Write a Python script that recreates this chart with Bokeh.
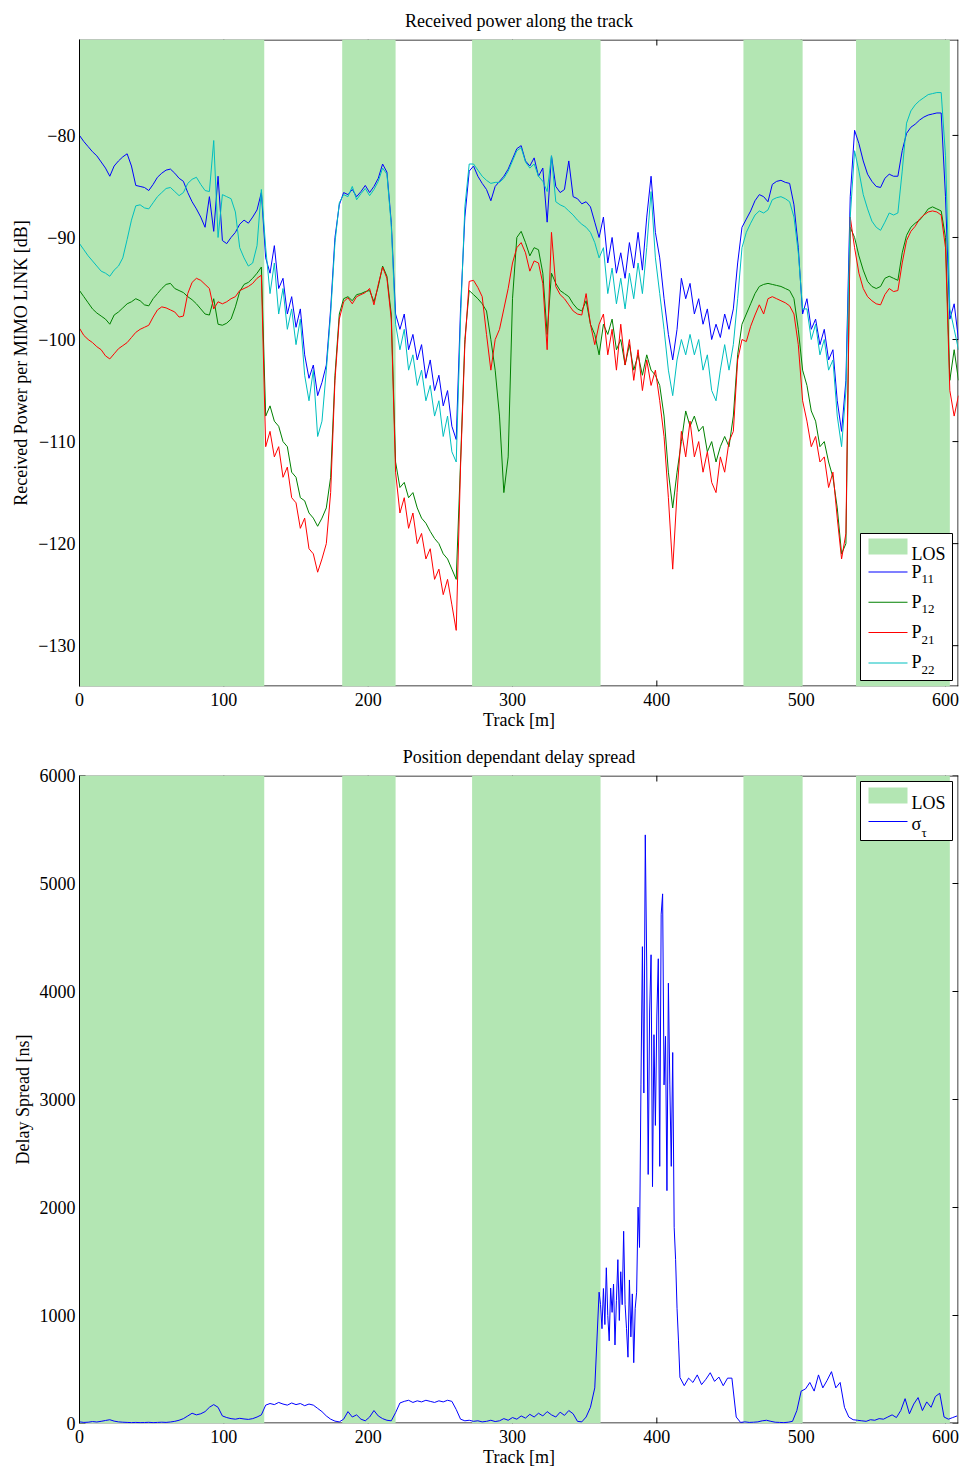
import numpy as np
from bokeh.plotting import figure
from bokeh.layouts import column
from bokeh.models import (FixedTicker, Range1d, Label, BoxAnnotation, ColumnDataSource)
from bokeh.embed import file_html
from bokeh.resources import INLINE

FONT = "Liberation Serif"

# ---------------- data ----------------
los_start = [0, 182, 272, 460, 538]
los_end = [128, 219, 361, 501, 603]

track = np.arange(0, 610, 3)  # 0 .. 609 m sampling grid

p11 = [
    # LOS 0-126
    -80.0, -80.6, -81.1, -81.6, -82.0, -82.6, -83.2, -84.0, -83.0, -82.5,
    -82.1, -81.8, -83.0, -84.9, -85.0, -85.1, -85.4, -84.8, -84.1, -83.7,
    -83.4, -83.3, -83.7, -84.2, -84.5, -85.6, -86.5, -87.2, -88.0, -89.0,
    -86.0, -89.4, -84.0, -90.3, -90.6, -90.0, -89.5, -88.7, -88.3, -88.6,
    -88.0, -87.3, -85.6,
    # NLOS 129-180
    -92.0, -93.5, -90.8, -95.0, -94.0, -97.5, -95.8, -98.8, -97.0, -101.5,
    -103.8, -102.5, -105.5, -104.2, -102.5, -97.0, -90.0, -86.8,
    # LOS 183-219
    -85.6, -85.8, -85.3, -86.0, -85.5, -84.9, -85.6, -85.0, -84.2, -82.8,
    -83.6, -88.5, -97.5,
    # NLOS 222-270
    -99.0, -97.5, -101.0, -99.5, -102.0, -100.5, -103.8, -102.0, -105.0, -103.5,
    -106.5, -105.0, -108.5, -109.8, -97.0, -88.0, -83.5,
    # LOS 273-360
    -83.0, -84.0, -84.7, -85.3, -86.4, -85.0, -84.5, -84.0, -83.3, -82.3,
    -81.3, -81.0, -82.5, -83.0, -82.2, -84.0, -83.2, -88.5, -82.0, -85.0,
    -85.6, -85.3, -82.5, -86.0, -86.2, -86.7, -86.5, -87.0, -88.5, -90.0,
    # NLOS 363-459
    -88.0, -92.5, -90.0, -93.5, -91.5, -94.0, -90.5, -93.0, -89.5, -93.2,
    -88.0, -84.0, -89.5, -92.0, -96.0, -99.5, -102.0, -99.0, -94.0, -96.0,
    -94.5, -97.5, -96.0, -98.5, -97.0, -100.0, -98.5, -99.8, -97.5, -99.0,
    -97.0, -92.5, -89.0,
    # LOS 462-501
    -88.2, -87.4, -86.4, -85.8, -86.0, -86.5, -84.8, -84.5, -84.4, -84.6,
    -84.7, -86.8, -91.0, -97.5,
    # NLOS 504-537
    -96.0, -99.0, -98.0, -100.5, -99.0, -102.0, -101.0, -106.0, -109.0, -104.0,
    -86.0, -79.5,
    # LOS 540-609
    -80.8, -82.5, -83.8, -84.5, -85.0, -85.1, -84.2, -83.8, -84.0, -84.0,
    -81.5, -79.8, -79.2, -78.9, -78.5, -78.2, -78.0, -77.9, -77.8, -77.8,
    -86.0, -98.0, -96.5, -100.0,
]

p12 = [
    -95.2, -95.8, -96.4, -97.0, -97.4, -97.7, -98.0, -98.5, -97.6, -97.3,
    -96.9, -96.5, -96.3, -96.0, -96.2, -96.6, -96.7, -96.0, -95.5, -95.0,
    -94.6, -94.5, -95.0, -95.2, -95.4, -95.8, -96.1, -96.5, -97.0, -97.5,
    -97.6, -96.0, -98.5, -98.6, -98.4, -98.0, -96.8, -95.3, -94.6, -94.4,
    -94.0, -93.5, -92.9,
    -107.5, -106.5, -108.0, -108.5, -110.0, -110.5, -113.0, -113.5, -115.5, -115.8,
    -117.0, -117.5, -118.3, -117.5, -116.5, -113.5, -103.5, -97.5,
    -96.0, -95.8, -96.2, -95.6, -95.5, -95.3, -95.2, -96.3, -94.8, -92.8,
    -93.8, -97.5, -112.0,
    -114.5, -114.0, -115.5, -115.0, -116.5, -117.5, -118.0, -118.8, -119.5, -120.0,
    -121.0, -121.5, -122.5, -123.5, -112.0, -100.0, -95.2,
    -95.6, -96.0, -96.5, -97.2, -100.0, -103.0, -107.5, -115.0, -111.5, -96.0,
    -90.0, -89.4, -90.5, -91.8, -91.0, -91.2, -93.5, -99.5, -93.5, -94.5,
    -95.2, -95.5, -95.8, -96.5, -97.0, -97.2, -96.2, -98.5, -99.5, -101.5,
    -98.5, -99.5, -98.0, -101.0, -100.0, -102.5, -100.5, -103.0, -101.5, -103.5,
    -101.5, -103.0, -103.5, -104.5, -107.5, -113.0, -116.5, -113.0, -110.0, -107.0,
    -108.5, -107.5, -109.0, -108.5, -111.0, -110.0, -112.0, -110.5, -109.5, -110.5,
    -107.5, -101.5, -98.5,
    -97.5, -96.5, -95.5, -94.8, -94.6, -94.5, -94.6, -94.7, -94.8, -95.0,
    -95.2, -96.0, -99.0, -103.0,
    -104.5, -107.0, -108.0, -110.5, -110.0, -112.0, -113.5, -116.5, -121.0, -120.0,
    -89.0, -90.0,
    -91.8, -93.2, -94.3, -94.8, -95.0, -94.8, -94.0, -93.8, -94.0, -94.2,
    -91.5, -89.8, -89.0, -88.6, -88.3, -87.8, -87.2, -87.0, -87.2, -87.4,
    -90.0, -104.0, -101.0, -104.0,
]

p21 = [
    -98.9, -99.6, -100.0, -100.3, -100.7, -101.0, -101.6, -101.9, -101.4, -100.9,
    -100.6, -100.3, -99.8, -99.3, -99.0, -98.8, -98.6, -97.8, -97.1, -96.8,
    -96.9, -97.1, -97.3, -97.8, -97.7, -95.5, -94.4, -94.0, -94.2, -94.6,
    -95.0, -97.0, -96.3, -96.5, -96.3, -96.0, -95.8, -95.2, -95.0, -94.8,
    -94.5, -94.0, -93.7,
    -110.5, -109.0, -111.5, -110.5, -113.5, -112.5, -115.5, -116.0, -118.5, -117.5,
    -120.5, -121.0, -122.8, -121.5, -120.0, -115.0, -104.0, -98.0,
    -96.3, -95.9, -96.5, -95.8, -95.6, -95.4, -95.0, -96.6, -94.6, -92.9,
    -94.0, -98.0, -113.0,
    -117.0, -115.5, -118.5, -117.0, -120.0, -119.0, -121.5, -120.5, -123.5, -122.5,
    -125.0, -123.5, -126.0, -128.5, -112.5, -100.5, -94.3,
    -94.2, -94.9, -95.8, -99.5, -103.0, -100.0, -99.0, -97.0, -95.0, -92.5,
    -91.0, -90.5, -91.5, -93.3, -92.3, -92.5, -94.5, -101.0, -89.5, -94.8,
    -95.6, -96.0, -96.6, -97.2, -97.5, -97.6, -95.5, -98.5, -100.5, -98.5,
    -97.5, -101.5, -99.0, -103.0, -98.5, -102.5, -100.0, -104.0, -101.0, -105.0,
    -102.0, -104.5, -103.0, -106.0, -109.5, -115.5, -122.5, -115.0, -109.0, -111.5,
    -108.0, -111.5, -110.0, -113.0, -111.0, -114.0, -115.0, -111.5, -113.0, -110.0,
    -109.0, -102.0, -100.0,
    -100.2, -98.7, -97.6, -96.6, -97.5, -96.0, -95.8, -96.0, -96.2, -96.4,
    -96.7, -97.5, -100.5, -106.0,
    -108.0, -110.5, -109.5, -112.0, -111.5, -114.5, -113.0, -117.5, -121.5, -119.0,
    -88.0, -91.0,
    -93.5, -95.0, -95.8, -96.2, -96.5, -96.6, -95.6, -95.0, -95.3, -95.2,
    -92.5, -90.3, -89.4, -88.9, -88.2, -87.8, -87.5, -87.4, -87.5, -87.8,
    -91.0, -105.0, -107.5, -105.5,
]

p22 = [
    -90.6, -91.2, -91.8, -92.3, -92.8, -93.3, -93.5, -93.8, -93.2, -92.8,
    -92.0, -90.2, -88.3, -86.9, -86.8, -87.1, -87.2, -86.6, -86.0, -85.6,
    -85.2, -85.1, -85.5, -85.9, -85.6, -84.7, -84.3, -84.1, -84.8, -85.4,
    -85.5, -80.5, -90.0, -85.8, -86.0, -86.2, -87.5, -91.0, -92.0, -92.8,
    -92.5, -90.8, -85.3,
    -91.0, -95.5, -92.5, -97.5, -95.0, -99.0, -97.0, -100.5, -98.0, -103.5,
    -106.0, -103.0, -109.5, -108.0, -103.0, -97.5, -90.5, -86.6,
    -85.8, -86.0, -85.0, -86.3, -85.7, -85.2, -85.9, -85.3, -84.5, -83.2,
    -83.8, -88.8, -98.5,
    -101.0, -99.0, -103.0, -101.5, -104.5, -103.0, -106.0, -104.5, -107.5, -106.0,
    -109.5, -107.5, -111.0, -112.0, -98.0, -87.0, -82.8,
    -82.8, -83.4, -84.0, -84.4, -84.7, -84.6, -84.6, -84.2, -83.5, -82.5,
    -81.5, -81.2, -82.6, -83.2, -82.8, -84.0, -84.5, -85.5, -82.0, -86.5,
    -86.8, -87.0, -87.4, -87.8, -88.3, -88.7, -89.0, -89.5, -90.5, -92.0,
    -91.0, -95.5, -93.0, -96.5, -94.0, -97.0, -93.5, -96.0, -92.5, -95.5,
    -91.0, -85.5, -92.0, -95.5, -99.0, -103.0, -105.5, -102.0, -100.0, -101.5,
    -99.5, -101.5, -100.0, -103.0, -101.5, -105.0, -106.0, -103.0, -100.5, -103.0,
    -100.5, -96.0, -91.0,
    -89.5, -88.6, -87.8, -87.4, -87.6, -87.3, -86.3, -86.1, -86.0, -86.2,
    -86.5, -88.0, -91.5, -97.0,
    -97.0, -100.0, -98.5, -101.5, -100.0, -103.0, -102.0, -107.5, -110.5, -105.0,
    -88.0, -81.5,
    -83.5, -85.8, -87.2, -88.4, -89.0, -89.3, -88.5, -87.6, -87.8, -87.6,
    -83.5, -78.8, -77.6, -77.0, -76.6, -76.3, -76.0, -75.9, -75.8, -75.8,
    -82.0, -97.0, -99.0, -101.0,
]

# delay spread: coarse grid, fine grid in the high-spread zone, coarse grid
ds_track = np.concatenate([np.arange(0, 360, 3), np.arange(360, 417, 1),
                           np.arange(419, 610, 3)])
ds_values = [
    15, 10, 12, 18, 14, 20, 28, 35, 22, 15, 12, 10, 8, 10, 8, 9, 11, 8, 10, 12,
    10, 14, 20, 30, 45, 70, 95, 80, 90, 110, 150, 175, 150, 70, 55, 45, 40, 48,
    42, 38, 45, 60, 80,
    170, 185, 175, 195, 180, 170, 190, 175, 185, 165, 180, 170, 140, 110, 70, 40, 22, 15,
    40, 110, 60, 80, 40, 25, 60, 120, 70, 45, 30, 25, 100,
    190, 205, 215, 195, 210, 200, 215, 205, 195, 210, 200, 215, 205, 130, 40, 25, 30,
    20, 25, 15, 20, 30, 18, 25, 45, 30, 55, 40, 70, 50, 85, 60, 95, 70, 110, 80, 60,
    105, 75, 120, 90, 20, 15, 60, 150, 330,
    # 360 .. 416 (1 m)
    1216, 1100, 878, 1250, 916, 1442, 1000, 765, 1254, 1029,
    1291, 727, 1141, 1517, 954, 1405, 1100, 1780, 1104, 878,
    614, 1329, 802, 1200, 563, 1066, 1216, 2004, 1630, 3135,
    4415, 3060, 5450, 4227, 2306, 3810, 4340, 2193, 3600, 2760,
    3773, 4303, 2381, 4716, 4904, 3135, 3585, 2156, 4077, 3135,
    2381, 3435, 1817, 1517, 1066, 765, 427,
    # 419 .. 608
    350, 420, 380, 450, 360, 410, 470, 390, 430, 350,
    420, 420, 60, 10, 15, 10, 12, 15, 25, 30,
    20, 12, 10, 8, 12, 20, 120, 300, 320, 380,
    300, 450, 330, 400, 480, 330, 380, 150, 60, 35,
    30, 25, 20, 35, 30, 45, 40, 60, 80, 55,
    120, 230, 90, 180, 240, 120, 200, 150, 250, 280,
    60, 40, 55, 70,
]

x_ticks = [0, 100, 200, 300, 400, 500, 600]
y1_ticks = [-130, -120, -110, -100, -90, -80]
y2_ticks = [0, 1000, 2000, 3000, 4000, 5000, 6000]

# ---------------- geometry ----------------
X0, X1 = 0, 609
Y1A, Y1B = -134.0, -70.6
Y2A, Y2B = 0, 6000
FL, FW = 79, 879
TOP1, FH1, BOT1 = 39, 647, 49
TOP2, FH2, BOT2 = 40, 648, 47
PAGE2 = TOP1 + FH1 + BOT1  # top of second figure on page
TICK = 6  # inward tick length in px

LOS_COLOR = "#b3e6b3"


def style_axis(ax, ticks, overrides=None):
    ax.ticker = FixedTicker(ticks=ticks)
    ax.major_tick_line_color = None
    ax.minor_tick_line_color = None
    ax.major_tick_out = 0
    ax.major_tick_in = 0
    ax.minor_tick_out = 0
    ax.minor_tick_in = 0
    ax.axis_line_color = "black"
    ax.major_label_text_font = FONT
    ax.major_label_text_font_size = "18px"
    ax.major_label_text_color = "black"
    ax.major_label_standoff = 4
    ax.axis_label_text_font = FONT
    ax.axis_label_text_font_style = "normal"
    ax.axis_label_text_font_size = "18px"
    ax.axis_label_text_color = "black"
    if overrides:
        ax.major_label_overrides = overrides


def make_fig(title, ylabel, y0, y1, yticks, top, fh, bottom, overrides=None):
    p = figure(width=961, height=top + fh + bottom,
               x_range=Range1d(X0, X1), y_range=Range1d(y0, y1),
               output_backend="svg", toolbar_location=None,
               min_border_left=FL, min_border_right=961 - FL - FW,
               min_border_top=top, min_border_bottom=bottom,
               title=title)
    p.title.text_font = FONT
    p.title.text_font_size = "18px"
    p.title.text_font_style = "normal"
    p.title.text_color = "black"
    p.title.align = "center"
    p.title.standoff = 17
    p.outline_line_color = None
    p.xgrid.visible = False
    p.ygrid.visible = False
    p.background_fill_color = "white"
    p.border_fill_color = "white"
    style_axis(p.xaxis[0], x_ticks)
    style_axis(p.yaxis[0], yticks, overrides)
    p.xaxis[0].axis_line_color = None
    p.xaxis[0].major_label_standoff = 6
    p.xaxis[0].axis_label = "Track [m]"
    p.xaxis[0].axis_label_standoff = 1
    p.yaxis[0].axis_label = ylabel
    p.yaxis[0].axis_label_standoff = 4

    # box edges and inward ticks, drawn before the LOS bands so the bands hide them
    dx = (X1 - X0) / FW
    dy = (y1 - y0) / fh
    k = "black"
    p.segment(x0=[X0, X0], y0=[y0 + 0.5 * dy, y1 - 0.5 * dy],
              x1=[X1, X1], y1=[y0 + 0.5 * dy, y1 - 0.5 * dy], line_color=k, line_width=1)
    p.segment(x0=[X1 - 0.5 * dx], y0=[y0], x1=[X1 - 0.5 * dx], y1=[y1],
              line_color=k, line_width=1)
    xt = np.array(x_ticks, dtype=float)
    yt = np.array(yticks, dtype=float)
    p.segment(x0=xt, y0=np.full(len(xt), y0), x1=xt, y1=np.full(len(xt), y0 + TICK * dy),
              line_color=k, line_width=1)
    p.segment(x0=xt, y0=np.full(len(xt), y1), x1=xt, y1=np.full(len(xt), y1 - TICK * dy),
              line_color=k, line_width=1)
    p.segment(x0=np.full(len(yt), X0), y0=yt, x1=np.full(len(yt), X0 + TICK * dx), y1=yt,
              line_color=k, line_width=1)
    p.segment(x0=np.full(len(yt), X1), y0=yt, x1=np.full(len(yt), X1 - TICK * dx), y1=yt,
              line_color=k, line_width=1)

    src = ColumnDataSource(dict(s=los_start, e=los_end))
    p.quad(left="s", right="e", bottom=y0, top=y1, source=src,
           fill_color=LOS_COLOR, line_color=None)
    return p


def fx(px):
    return X0 + (px - FL) / FW * (X1 - X0)


def fy_top(py):
    return Y1B - (py - TOP1) / FH1 * (Y1B - Y1A)


def fy_bot(py):
    return Y2B - (py - (PAGE2 + TOP2)) / FH2 * (Y2B - Y2A)


def label(p, x, y, text, size="18px"):
    p.add_layout(Label(x=x, y=y, text=text, text_font=FONT, text_font_size=size,
                       text_baseline="alphabetic", text_align="left",
                       text_color="black", level="overlay"))


def box(p, l, r, t, b, fill=None, line=None):
    p.add_layout(BoxAnnotation(left=l, right=r, top=t, bottom=b,
                               fill_color=fill if fill else "white",
                               fill_alpha=1.0 if fill else 0.0,
                               line_color=line, line_width=1, line_alpha=1.0,
                               level="overlay"))


# ---------------- top figure ----------------
minus = {v: ("\u2212" + str(-v)) for v in y1_ticks}
p1 = make_fig("Received power along the track", "Received Power per MIMO LINK [dB]",
              Y1A, Y1B, y1_ticks, TOP1, FH1, BOT1, overrides=minus)
series = [(p11, "#0000ff"), (p12, "#008000"), (p21, "#ff0000"), (p22, "#00bfbf")]
for vals, col in series:
    p1.line(track, vals, line_color=col, line_width=1)

box(p1, fx(860), fx(952), fy_top(533), fy_top(680), fill="white", line="black")
box(p1, fx(868), fx(907), fy_top(538), fy_top(554), fill=LOS_COLOR)
label(p1, fx(911), fy_top(553), "LOS")
subs = ["11", "12", "21", "22"]
for i, (vals, col) in enumerate(series):
    yl = 571 + 30.3 * i
    box(p1, fx(868), fx(907), fy_top(yl), fy_top(yl + 1), fill=col)
    label(p1, fx(911), fy_top(571 + 30.3 * i), "P")
    label(p1, fx(921), fy_top(578.5 + 30.3 * i), subs[i], size="13px")

# ---------------- bottom figure ----------------
p2 = make_fig("Position dependant delay spread", "Delay Spread [ns]",
              Y2A, Y2B, y2_ticks, TOP2, FH2, BOT2)
p2.line(ds_track, ds_values, line_color="#0000ff", line_width=1)

box(p2, fx(860), fx(952), fy_bot(781), fy_bot(840), fill="white", line="black")
box(p2, fx(868), fx(907), fy_bot(787), fy_bot(803), fill=LOS_COLOR)
label(p2, fx(911), fy_bot(802.5), "LOS")
box(p2, fx(868), fx(907), fy_bot(820.5), fy_bot(821.5), fill="#0000ff")
label(p2, fx(911), fy_bot(823.5), "\u03c3")
label(p2, fx(921), fy_bot(831.5), "\u03c4", size="13px")

layout = column(p1, p2, spacing=0)
open("out.html", "w").write(file_html(layout, INLINE))
